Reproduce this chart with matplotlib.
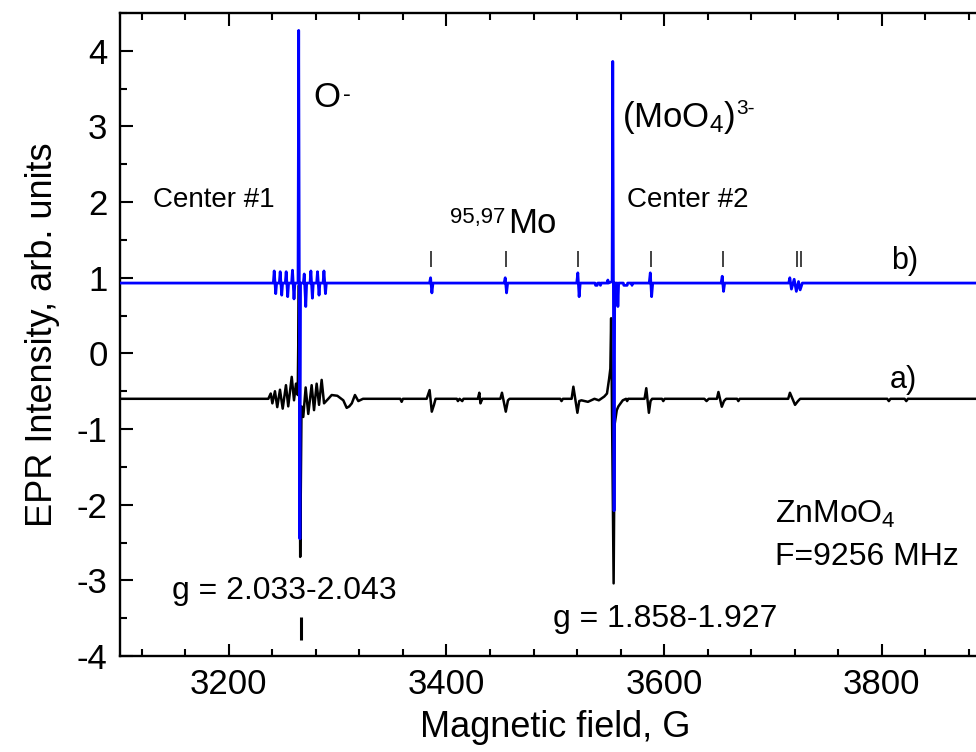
import matplotlib
matplotlib.use("Agg")
import matplotlib.pyplot as plt
from matplotlib.ticker import MultipleLocator

plt.rcParams['font.family'] = ['Liberation Sans', 'DejaVu Sans']
plt.rcParams['mathtext.fontset'] = 'custom'
plt.rcParams['mathtext.rm'] = 'Liberation Sans'
plt.rcParams['mathtext.it'] = 'Liberation Sans'
plt.rcParams['mathtext.bf'] = 'Liberation Sans'
plt.rcParams['axes.unicode_minus'] = False

# Spectrum b) (blue): magnetic field (G) and EPR intensity (arb. units)
field_b = [3100, 3240.9, 3241.7, 3243.1, 3243.9,
           3246.4, 3247.2, 3248.6, 3249.4,
           3251.9, 3252.7, 3254.1, 3254.9,
           3257.7, 3258.5, 3259.9, 3260.7,
           3263.6, 3264.2, 3265.3, 3265.9,
           3268.5, 3269.3, 3270.7, 3271.5,
           3274.6, 3275.4, 3276.8, 3277.6,
           3280.7, 3281.5, 3282.9, 3283.7,
           3286.6, 3287.4, 3288.8, 3289.6,
           3384.4, 3385.4, 3386.6, 3387.6,
           3453.0, 3454.0, 3455.2, 3456.2,
           3519.7, 3520.7, 3521.9, 3522.9,
           3536.5, 3537.0, 3538.5, 3539.0, 3541.0, 3541.5, 3542.2,
           3547.8, 3548.3, 3548.8,
           3552.2, 3552.8, 3554.0, 3554.6,
           3557.0, 3557.5, 3558.2,
           3562.5, 3563.0, 3566.0, 3566.5, 3570.0, 3570.5, 3571.0,
           3586.3, 3587.3, 3588.5, 3589.5,
           3652.4, 3653.4, 3654.6, 3655.6,
           3714.5, 3715.5, 3717.0, 3719.5, 3721.5, 3723.5, 3725.0, 3727.0,
           3900]
int_b = [0.93, 0.93, 1.09, 0.79, 0.93,
         0.93, 1.08, 0.77, 0.93,
         0.93, 1.08, 0.75, 0.93,
         0.93, 1.10, 0.72, 0.93,
         0.93, 4.27, -2.45, 0.93,
         0.93, 1.05, 0.62, 0.93,
         0.93, 1.09, 0.73, 0.93,
         0.93, 1.08, 0.77, 0.93,
         0.93, 1.09, 0.79, 0.93,
         0.93, 1.00, 0.80, 0.93,
         0.93, 1.00, 0.80, 0.93,
         0.93, 1.065, 0.75, 0.93,
         0.93, 0.90, 0.90, 0.93, 0.93, 0.90, 0.93,
         0.93, 0.97, 0.93,
         0.95, 3.86, -2.08, 0.93,
         0.93, 0.62, 0.93,
         0.93, 0.90, 0.90, 0.93, 0.93, 0.90, 0.93,
         0.93, 1.065, 0.75, 0.93,
         0.93, 1.02, 0.82, 0.93,
         0.93, 1.00, 0.85, 0.98, 0.82, 0.95, 0.84, 0.93,
         0.93]

# Spectrum a) (black)
field_a = [3100, 3236.3, 3238.5, 3240.0, 3242.4, 3244.5, 3247.0, 3249.5,
           3252.5, 3254.6, 3257.8, 3259.9, 3261.7, 3263.3, 3264.4, 3265.6,
           3266.8, 3268.4, 3270.6, 3273.0, 3276.1, 3278.3, 3280.7, 3282.9,
           3285.3, 3287.5, 3291.4, 3294.5, 3299.7, 3305.2, 3308.3, 3310.7,
           3313.0, 3315.9, 3319.0, 3323.3,
           3357.5, 3358.8, 3360.0,
           3381.8, 3384.5, 3386.5, 3388.5, 3390.0,
           3409.5, 3410.5, 3412.0, 3414.5, 3415.6,
           3428.8, 3430.2, 3431.2, 3433.0,
           3449.5, 3451.0, 3454.5, 3456.5, 3458.0,
           3504.5, 3505.7, 3507.0,
           3515.0, 3516.6, 3520.3, 3522.0, 3524.0, 3530.0, 3536.0, 3540.0,
           3545.0, 3547.5, 3549.5, 3550.6, 3551.3, 3553.6, 3554.6, 3556.5,
           3558.0, 3562.0, 3565.0, 3566.0, 3567.0,
           3582.0, 3583.6, 3586.0, 3587.5, 3589.0,
           3598.0, 3599.2, 3600.5,
           3637.0, 3639.0, 3641.0,
           3648.5, 3649.9, 3653.0, 3655.0, 3657.0,
           3667.0, 3668.2, 3669.5,
           3714.0, 3715.6, 3720.3, 3723.0, 3725.0,
           3805.0, 3806.5, 3808.0, 3821.0, 3822.5, 3824.0,
           3900]
int_a = [-0.60, -0.60, -0.53, -0.66, -0.50, -0.71, -0.48, -0.73,
         -0.42, -0.70, -0.31, -0.62, -0.40, -0.55, 0.90, -2.69,
         -0.70, -0.84, -0.45, -0.80, -0.42, -0.75, -0.40, -0.68,
         -0.35, -0.66, -0.60, -0.55, -0.56, -0.62, -0.72, -0.70,
         -0.66, -0.55, -0.63, -0.60,
         -0.60, -0.64, -0.60,
         -0.60, -0.485, -0.77, -0.68, -0.60,
         -0.60, -0.63, -0.60, -0.63, -0.60,
         -0.60, -0.52, -0.66, -0.60,
         -0.60, -0.52, -0.77, -0.62, -0.60,
         -0.60, -0.63, -0.60,
         -0.60, -0.44, -0.785, -0.63, -0.62, -0.64, -0.60, -0.62,
         -0.57, -0.53, -0.33, -0.20, 0.465, -3.04, -0.93, -0.75,
         -0.70, -0.62, -0.60, -0.63, -0.60,
         -0.60, -0.46, -0.785, -0.63, -0.60,
         -0.60, -0.63, -0.60,
         -0.60, -0.63, -0.60,
         -0.60, -0.51, -0.705, -0.63, -0.60,
         -0.60, -0.63, -0.60,
         -0.60, -0.52, -0.68, -0.63, -0.60,
         -0.60, -0.63, -0.60, -0.60, -0.63, -0.60,
         -0.60]

# 95,97Mo hyperfine line positions (G) marked above spectrum b)
hf_marks = [3385.9, 3454.5, 3521.2, 3587.8, 3653.9, 3721.9, 3725.6]
hf_mark_span = (1.145, 1.35)
# O- line position marked below the g-value label
o_mark = 3266.0
o_mark_span = (-3.79, -3.48)

x_ticks = [3200, 3400, 3600, 3800]
y_ticks = [-4, -3, -2, -1, 0, 1, 2, 3, 4]

fig = plt.figure(figsize=(9.76, 7.52), dpi=100)
ax = fig.add_axes([120 / 976, 96 / 752, 870.6 / 976, 643 / 752])

ax.plot(field_a, int_a, color='black', lw=1.8, zorder=2)
ax.plot(field_b, int_b, color='#0000ff', lw=2.0, zorder=3)

ax.vlines(hf_marks, *hf_mark_span, color='#222222', lw=1.2)
ax.vlines([o_mark], *o_mark_span, color='black', lw=2.2)

ax.set_xlim(3100, 3900)
ax.set_ylim(-4, 4.5)
ax.set_xticks(x_ticks)
ax.set_yticks(y_ticks)
ax.xaxis.set_minor_locator(MultipleLocator(40))
ax.yaxis.set_minor_locator(MultipleLocator(0.5))
ax.tick_params(which='both', direction='in', top=True, right=False,
               width=1.5, labelsize=25, pad=9)
ax.tick_params(which='major', length=9)
ax.tick_params(which='minor', length=5)
for side in ('left', 'bottom', 'top'):
    ax.spines[side].set_linewidth(1.7)
ax.spines['right'].set_visible(False)

ax.set_xlabel('Magnetic field, G', fontsize=26, labelpad=6)
ax.set_ylabel('EPR Intensity, arb. units', fontsize=26, labelpad=12)

ax.text(3130.3, 2.03, 'Center #1', fontsize=20, ha='left', va='center')
ax.text(3565.9, 2.03, 'Center #2', fontsize=20, ha='left', va='center')

t_o = ax.text(3277.3, 3.26, 'O', fontsize=25, ha='left', va='baseline')
ax.annotate('-', xy=(1.0, 1.0), xycoords=t_o, xytext=(2, -2),
            textcoords='offset points', fontsize=17, ha='left', va='top')

t_mo4 = ax.text(3561.3, 2.99, r'(MoO$_{4}$)', fontsize=25, ha='left', va='baseline')
ax.annotate('3-', xy=(1.0, 1.0), xycoords=t_mo4, xytext=(1, 0),
            textcoords='offset points', fontsize=15, ha='left', va='top')

t_mo = ax.text(3501.5, 1.59, 'Mo', fontsize=25, ha='right', va='baseline')
ax.annotate('95,97', xy=(0.0, 1.0), xycoords=t_mo, xytext=(-2, 0),
            textcoords='offset points', fontsize=16, ha='right', va='top')

ax.text(3809.0, 1.22, 'b)', fontsize=22, ha='left', va='center')
ax.text(3807.5, -0.35, 'a)', fontsize=22, ha='left', va='center')
ax.text(3701.8, -2.24, r'ZnMoO$_{4}$', fontsize=23, ha='left', va='baseline')
ax.text(3701.8, -2.80, 'F=9256 MHz', fontsize=23, ha='left', va='baseline')
ax.text(3250.7, -3.25, 'g = 2.033-2.043', fontsize=23, ha='center', va='baseline')
ax.text(3600.8, -3.62, 'g = 1.858-1.927', fontsize=23, ha='center', va='baseline')

fig.savefig('out.png', dpi=100)
